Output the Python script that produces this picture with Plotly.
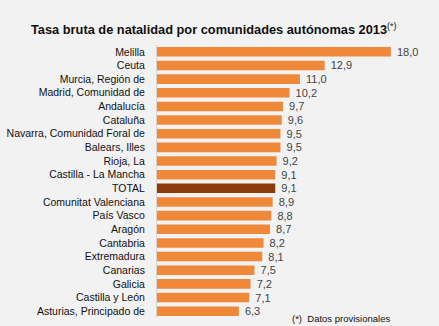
import plotly.graph_objects as go

# Crude birth rate by autonomous community, 2013 (provisional data)
regiones = [
    "Melilla", "Ceuta", "Murcia, Región de", "Madrid, Comunidad de", "Andalucía",
    "Cataluña", "Navarra, Comunidad Foral de", "Balears, Illes", "Rioja, La",
    "Castilla - La Mancha", "TOTAL", "Comunitat Valenciana", "País Vasco", "Aragón",
    "Cantabria", "Extremadura", "Canarias", "Galicia", "Castilla y León",
    "Asturias, Principado de",
]
tasa = [18.0, 12.9, 11.0, 10.2, 9.7, 9.6, 9.5, 9.5, 9.2, 9.1, 9.1, 8.9, 8.8, 8.7,
        8.2, 8.1, 7.5, 7.2, 7.1, 6.3]

naranja = "#f0883a"
marron = "#8c3c0c"
colores = [marron if r == "TOTAL" else naranja for r in regiones]

fig = go.Figure(
    go.Bar(
        x=tasa,
        y=regiones,
        orientation="h",
        marker=dict(color=colores, line=dict(width=0)),
        texttemplate=" %{x:.1f}",
        textposition="outside",
        constraintext="none",
        cliponaxis=False,
        textfont=dict(family="Liberation Sans, Arial", size=11, color="#444444"),
        hoverinfo="skip",
    )
)

W, H = 439, 326
left, right, top, bottom = 157, 0, 45, 8

fig.update_layout(
    width=W,
    height=H,
    margin=dict(l=left, r=right, t=top, b=bottom),
    paper_bgcolor="#f2f2f2",
    plot_bgcolor="#f2f2f2",
    separators=",.",
    bargap=0.3,
    showlegend=False,
    font=dict(family="Liberation Sans, Arial", color="#111111"),
    title=dict(
        text="<b>Tasa bruta de natalidad por comunidades autónomas 2013</b><sup>(*)</sup>",
        font=dict(size=12.8, color="#111111"),
        xref="container", yref="container",
        x=31 / W, xanchor="left",
        y=1 - 30 / H, yanchor="middle",
    ),
    xaxis=dict(
        range=[0, 21.7],
        visible=False,
        fixedrange=True,
    ),
    yaxis=dict(
        autorange="reversed",
        showgrid=False,
        zeroline=False,
        showline=True,
        linecolor="#d4d4d4",
        linewidth=1,
        ticks="",
        ticklabelstandoff=9,
        tickfont=dict(size=10.5, color="#111111"),
    ),
    annotations=[
        dict(
            text="(*)  Datos provisionales",
            xref="paper", yref="paper",
            x=(290 - left) / (W - left - right), y=0.0,
            xanchor="left", yanchor="middle",
            showarrow=False,
            font=dict(size=9.5, color="#111111"),
        )
    ],
)

fig.write_html("out.html")
